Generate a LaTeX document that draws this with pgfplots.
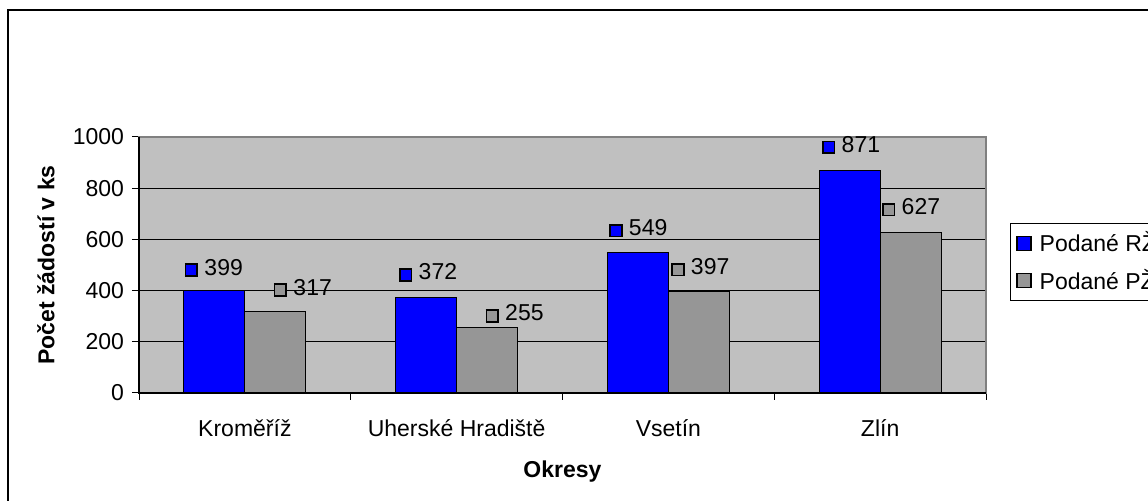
\documentclass[border=0pt,11pt]{standalone}
\usepackage{pgfplots}
\pgfplotsset{compat=1.18}
\usepackage{pgfplotstable}
\usepackage{fontspec}
\setmainfont{Liberation Sans}
\definecolor{plotbg}{HTML}{C0C0C0}
\definecolor{bargray}{HTML}{969696}
\definecolor{bordergray}{HTML}{808080}
\newcommand\sq[1]{{\setlength\fboxsep{0pt}\setlength\fboxrule{0.8pt}\fcolorbox{black}{#1}{\rule{0pt}{5pt}\rule{5pt}{0pt}}}}

\pgfplotstableread{
x y dx dy
0 399 -15 11.5
1 372 -13.75 12.5
2 549 -14.5 12
3 871 -14 12.5
}\tabRZ
\pgfplotstableread{
x y dx dy
0 317 -1 12
1 255 -1 7
2 397 -14 12
3 627 -14.5 12.5
}\tabPZ

\begin{document}
\fontsize{11.5}{14}\selectfont
\begin{tikzpicture}
\useasboundingbox (0,0) rectangle (574pt,250.5pt);
\clip (0,0) rectangle (574pt,250.5pt);
\fill[white] (0,0) rectangle (574pt,250.5pt);
\draw[line width=0.8pt] (4pt,-20pt) rectangle (640pt,245.5pt);
\begin{axis}[
  at={(69.5pt,54pt)}, anchor=south west,
  scale only axis, width=423.5pt, height=128pt,
  xmin=-0.5, xmax=3.5, ymin=0, ymax=1000,
  axis background/.style={fill=plotbg},
  axis line style={bordergray, line width=0.8pt},
  ybar=0pt, bar width=30.5pt,
  xtick={0,1,2,3},
  xticklabels={Kroměříž, Uherské Hradiště, Vsetín, Zlín},
  xticklabel style={yshift=-6pt},
  minor xtick={-0.5,0.5,1.5,2.5,3.5},
  major x tick style={draw=none},
  xtick pos=left, ytick pos=left,
  ytick={0,200,...,1000},
  /pgf/number format/1000 sep={},
  tick align=outside, major tick length=3.5pt, minor tick length=3.5pt,
  tick style={black, line width=0.5pt},
  ymajorgrids, grid style={black, line width=0.5pt},
  xlabel={Okresy}, ylabel={Počet žádostí v ks},
  xlabel style={font=\bfseries, at={(axis description cs:0.5,-0.305)}, anchor=center},
  ylabel style={font=\bfseries, at={(axis description cs:-0.1098,0.5)}, anchor=center},
  /pgf/number format/assume math mode=true,
  clip=false,
  legend style={at={(rel axis cs:1.0283,0.664)}, anchor=north west, draw=black,
    line width=0.5pt, fill=white, inner xsep=3pt, inner ysep=2.5pt, row sep=4pt,
    nodes={inner sep=1.5pt},
    /tikz/every odd column/.append style={column sep=2.5pt}},
  legend cell align=left,
]
\addplot[fill=blue, draw=black, line width=0.5pt,
  visualization depends on={\thisrow{dx}\as\dx},
  visualization depends on={\thisrow{dy}\as\dy},
  nodes near coords={\sq{blue}\ \pgfmathprintnumber{\pgfplotspointmeta}},
  every node near coord/.append style={anchor=west, inner sep=0pt, xshift=\dx pt, yshift=\dy pt, black},
  legend image code/.code={\draw[fill=blue, draw=black, line width=0.6pt] (0pt,-3.5pt) rectangle (7pt,3.5pt);}
] table[x=x,y=y] {\tabRZ};
\addlegendentry{Podané RŽ}
\addplot[fill=bargray, draw=black, line width=0.5pt,
  visualization depends on={\thisrow{dx}\as\dx},
  visualization depends on={\thisrow{dy}\as\dy},
  nodes near coords={\sq{bargray}\ \pgfmathprintnumber{\pgfplotspointmeta}},
  every node near coord/.append style={anchor=west, inner sep=0pt, xshift=\dx pt, yshift=\dy pt, black},
  legend image code/.code={\draw[fill=bargray, draw=black, line width=0.6pt] (0pt,-3.5pt) rectangle (7pt,3.5pt);}
] table[x=x,y=y] {\tabPZ};
\addlegendentry{Podané PŽ}
\draw[black, line width=0.6pt] (rel axis cs:0,1) -- (rel axis cs:0,0) -- (rel axis cs:1,0);
\end{axis}
\end{tikzpicture}
\end{document}
